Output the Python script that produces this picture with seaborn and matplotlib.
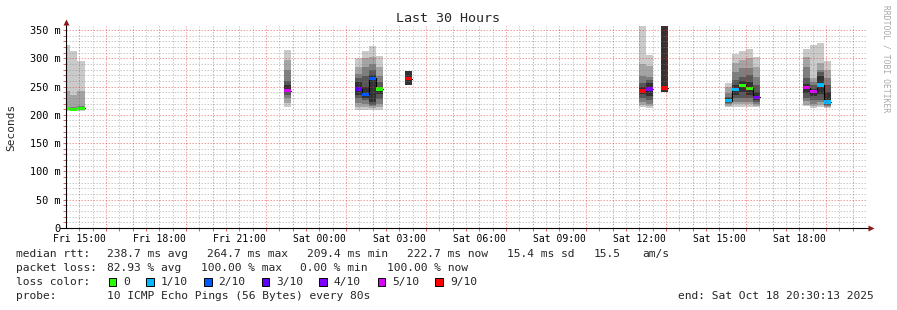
import numpy as np
import pandas as pd
import matplotlib
matplotlib.use("Agg")
import matplotlib.pyplot as plt
import matplotlib.dates as mdates
from matplotlib.patches import Rectangle
import seaborn as sns

# ------------------------------------------------------------------ data
step_start = [
    "2025-10-17 14:24", "2025-10-17 14:40", "2025-10-17 14:56",
    "2025-10-17 22:40",
    "2025-10-18 01:20", "2025-10-18 01:36", "2025-10-18 01:52", "2025-10-18 02:08",
    "2025-10-18 03:12",
    "2025-10-18 12:00", "2025-10-18 12:16", "2025-10-18 12:48",
    "2025-10-18 15:12", "2025-10-18 15:28", "2025-10-18 15:44", "2025-10-18 16:00", "2025-10-18 16:16",
    "2025-10-18 18:08", "2025-10-18 18:24", "2025-10-18 18:40", "2025-10-18 18:56",
]
nan = np.nan
# sorted ping rtts (ms) per 16-minute step, ping1 = fastest ... ping10 = slowest
ping1  = [207, 206, 207, 213, 209, 209, 209, 209, nan, 213, 212, nan, 213, 214, 214, 214, 213, 215, 212, 213, 212]
ping2  = [209, 208, 209, 221, 214, 214, 212, 214, nan, 217, 215, nan, 216, 219, 219, 219, 216, 218, 216, 218, 214]
ping3  = [210, 209, 210, 229, 221, 220, 215, 220, nan, 223, 220, nan, 219, 223, 223, 223, 219, 224, 220, 222, 216]
ping4  = [210.5, 209.5, 211, 235, 229, 226, 218, 228, nan, 230, 226, nan, 221, 229, 229, 229, 222, 230, 227, 227, 218]
ping5  = [211, 210, 211.5, 241, 235, 230, 222, 236, 253, 236, 234, 241, 223, 235, 241, 235, 226, 238, 234, 236, 220]
ping6  = [212, 211, 212.5, 252, 258, 250, 271, 250, 277, 249, 256, 370, 229, 252, 260, 258, 240, 255, 246, 268, 241]
ping7  = [213, 212, 213, 260, 265, 268, 280, 258, nan, 256, 262, nan, 232, 262, 267, 270, 253, 265, 252, 275, 253]
ping8  = [214, 214, 215, 279, 273, 285, 290, 268, nan, 269, 267, nan, 238, 276, 282, 282, 267, 284, 258, 280, 265]
ping9  = [243, 235, 243, 297, 285, 300, 303, 285, nan, 289, 287, nan, 250, 291, 297, 300, 285, 303, 265, 292, 280]
ping10 = [324, 313, 296, 314, 301, 312, 321, 304, nan, 370, 305, nan, 257, 307, 313, 316, 303, 317, 323, 327, 296]
median_rtt = [211.5, 209.5, 211.5, 243, 246, 236, 264.5, 246, 264, 242, 246, 247.5,
              225, 245, 252, 247, 231, 248, 241, 253, 223]
loss = [0, 0, 0, 5, 3, 2, 2, 0, 9, 9, 4, 9, 1, 1, 0, 0, 4, 5, 5, 1, 1]

loss_levels = [0, 1, 2, 3, 4, 5, 9]
loss_labels = ["0", "1/10", "2/10", "3/10", "4/10", "5/10", "9/10"]
loss_colors = ["#26ff00", "#00b8ff", "#0059ff", "#5e00ff", "#7e00ff", "#dd00ff", "#ff0000"]

tick_times = ["2025-10-17 15:00", "2025-10-17 18:00", "2025-10-17 21:00", "2025-10-18 00:00",
              "2025-10-18 03:00", "2025-10-18 06:00", "2025-10-18 09:00", "2025-10-18 12:00",
              "2025-10-18 15:00", "2025-10-18 18:00"]
tick_labels = ["Fri 15:00", "Fri 18:00", "Fri 21:00", "Sat 00:00", "Sat 03:00",
               "Sat 06:00", "Sat 09:00", "Sat 12:00", "Sat 15:00", "Sat 18:00"]
ytick_values = [0, 50, 100, 150, 200, 250, 300, 350]
ytick_labels = ["0", "50 m", "100 m", "150 m", "200 m", "250 m", "300 m", "350 m"]

t_start, t_end = "2025-10-17 14:30:13", "2025-10-18 20:30:13"
step_minutes = 16

# ------------------------------------------------------------------ style
sns.set_theme(style="white")
MONO = ["DejaVu Sans Mono", "DejaVu Sans"]
plt.rcParams["font.family"] = MONO

W, H = 897, 310
fig = plt.figure(figsize=(W / 100, H / 100), dpi=100)
fig.patch.set_facecolor("white")


def fx(x):
    return x / W


def fy(y):
    return 1 - y / H


ax = fig.add_axes([fx(66), fy(228), 800 / W, (228 - 26) / H])
ax.set_facecolor("white")

starts = mdates.date2num(pd.to_datetime(step_start))
step = step_minutes / 1440.0
pings = np.array([ping1, ping2, ping3, ping4, ping5, ping6, ping7, ping8, ping9, ping10], dtype=float)
grays = ["#cacaca", "#a4a4a4", "#7e7e7e", "#585858", "#323232"]

# smoke: nested bands between ping i and ping (11-i)
for i in range(5):
    lo = pings[i]
    hi = pings[9 - i]
    ok = np.isfinite(lo) & np.isfinite(hi)
    ax.bar(starts[ok], (hi - lo)[ok], bottom=lo[ok], width=step, align="edge",
           color=grays[i], linewidth=0, zorder=2)

# median step line (black), per contiguous run
grp = np.concatenate([[0], np.cumsum(np.diff(starts) > step * 1.01)])
rows = []
for g in np.unique(grp):
    idx = np.where(grp == g)[0]
    for k in idx:
        rows.append((starts[k], median_rtt[k], g))
    rows.append((starts[idx[-1]] + step, median_rtt[idx[-1]], g))
med_df = pd.DataFrame(rows, columns=["t", "median", "run"])
sns.lineplot(data=med_df, x="t", y="median", units="run", estimator=None,
             drawstyle="steps-post", color="#000000", linewidth=0.8, ax=ax,
             legend=False, zorder=3)

# coloured median marks by loss
cmap = dict(zip(loss_levels, loss_colors))
mh = 6.0
ax.bar(starts, [mh] * len(starts), bottom=np.array(median_rtt) - mh / 2, width=step,
       align="edge", color=[cmap[l] for l in loss], linewidth=0, zorder=4)

x0 = mdates.date2num(pd.Timestamp(t_start))
x1 = mdates.date2num(pd.Timestamp(t_end))
ax.set_xlim(x0, x1)
ax.set_ylim(0, 357)

# grid (drawn above the data, like rrdtool), dotted lines
dash = (0, (1.5, 1.5))
major_kw = dict(color="#e03030", alpha=0.45, lw=0.72, ls=dash, zorder=6, snap=True)
minor_kw = dict(color="#808080", alpha=0.40, lw=0.72, ls=dash, zorder=6, snap=True)
for t in pd.date_range("2025-10-17 15:00", "2025-10-18 20:30", freq="30min"):
    v = mdates.date2num(t)
    ax.axvline(v, **(major_kw if t.minute == 0 else minor_kw))
for v in range(10, 360, 10):
    ax.axhline(v, **(major_kw if v % 50 == 0 else minor_kw))

# axes / ticks
for s in ax.spines.values():
    s.set_visible(False)
ax.plot([-0.008, 1.004], [0, 0], transform=ax.transAxes, color="black", lw=0.8,
        clip_on=False, zorder=7)
ax.plot([0, 0], [0, 1.015], transform=ax.transAxes, color="black", lw=0.8,
        clip_on=False, zorder=7)
ax.plot([1.006], [0], transform=ax.transAxes, marker=">", ms=4, color="#8b1a1a",
        clip_on=False, zorder=8, mec="none")
ax.plot([0], [1.02], transform=ax.transAxes, marker="^", ms=4, color="#8b1a1a",
        clip_on=False, zorder=8, mec="none")

ax.set_xticks(mdates.date2num(pd.to_datetime(tick_times)), tick_labels)
ax.set_xticks(mdates.date2num(pd.date_range("2025-10-17 15:00", "2025-10-18 20:00", freq="30min")),
              minor=True)
ax.set_yticks(ytick_values, ytick_labels)
ax.set_yticks(range(0, 360, 10), minor=True)
ax.tick_params(axis="x", which="both", direction="out", length=2, width=0.7,
               color="#e06060", pad=2.5, labelsize=7, labelcolor="black")
ax.tick_params(axis="y", which="both", direction="out", length=2, width=0.7,
               color="#e06060", pad=2, labelsize=7.4, labelcolor="black")
ax.tick_params(axis="both", which="both", bottom=True, left=True)
ax.set_xlabel("")
ax.set_ylabel("")

# titles & labels
fig.text(fx(448), fy(19), "Last 30 Hours", ha="center", va="center", fontsize=9.6, family=MONO)
fig.text(fx(11), fy(127), "Seconds", ha="center", va="center", rotation=90, fontsize=8, family=MONO)
fig.text(fx(886), fy(5), "RRDTOOL / TOBI OETIKER", ha="center", va="top", rotation=270,
         fontsize=5.8, color="#a8a8a8", family=MONO)

# legend / statistics text
FS = 8.1
rows_y = [254.3, 268.3, 282.3, 296.0]
fig.text(fx(16), fy(rows_y[0]), "median rtt:", va="center", fontsize=FS)
for x, s in [(107.3, "238.7 ms avg"), (207.3, "264.7 ms max"), (306.7, "209.4 ms min"),
             (407.3, "222.7 ms now"), (507.3, "15.4 ms sd"), (593.3, "15.5"), (642.7, "am/s")]:
    fig.text(fx(x), fy(rows_y[0]), s, va="center", fontsize=FS)
fig.text(fx(16), fy(rows_y[1]), "packet loss:", va="center", fontsize=FS)
for x, s in [(107.3, "82.93 % avg"), (200.7, "100.00 % max"), (300.0, "0.00 % min"),
             (386.7, "100.00 % now")]:
    fig.text(fx(x), fy(rows_y[1]), s, va="center", fontsize=FS)
fig.text(fx(16), fy(rows_y[2]), "loss color:", va="center", fontsize=FS)
sq_x = [108.7, 146.0, 204.0, 261.7, 319.3, 377.7, 435.3]
for x, lab, col in zip(sq_x, loss_labels, loss_colors):
    fig.patches.append(Rectangle((fx(x), fy(286.3)), 7.5 / W, 8 / H, transform=fig.transFigure,
                                 facecolor=col, edgecolor="black", linewidth=0.7))
    fig.text(fx(x + 14.6), fy(rows_y[2]), lab, va="center", fontsize=FS)
fig.text(fx(16), fy(rows_y[3]), "probe:", va="center", fontsize=FS)
fig.text(fx(107.3), fy(rows_y[3]), "10 ICMP Echo Pings (56 Bytes) every 80s", va="center", fontsize=FS)
fig.text(fx(678.3), fy(rows_y[3]), "end: Sat Oct 18 20:30:13 2025", va="center", fontsize=FS)

fig.savefig("out.png", dpi=100, facecolor="white")
